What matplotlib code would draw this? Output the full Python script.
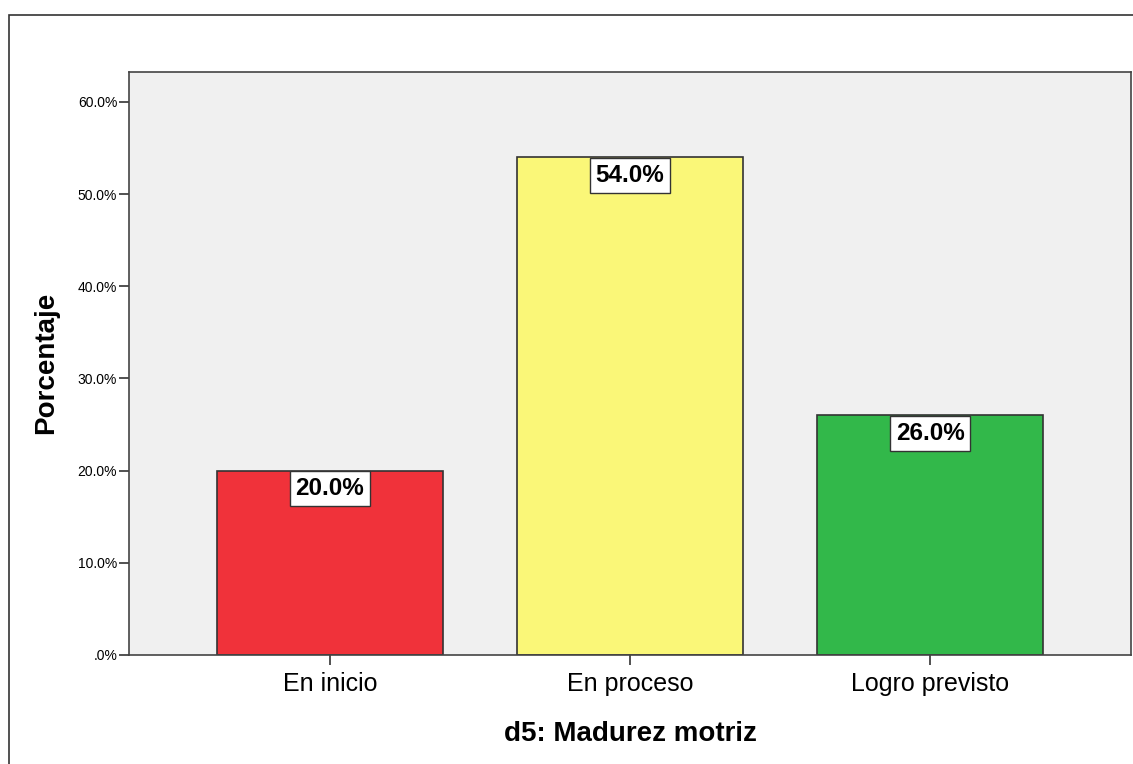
import matplotlib
matplotlib.use("Agg")
import matplotlib.pyplot as plt
from matplotlib.patches import Rectangle

categories = ["En inicio", "En proceso", "Logro previsto"]
values = [20.0, 54.0, 26.0]
colors = ["#F0323A", "#FAF778", "#32B84A"]
yticks = [0, 10, 20, 30, 40, 50, 60]
ytick_labels = [".0%", "10.0%", "20.0%", "30.0%", "40.0%", "50.0%", "60.0%"]

plt.rcParams['font.family'] = ["Liberation Sans", "DejaVu Sans"]

W, H = 1133, 764
fig = plt.figure(figsize=(W / 100, H / 100), dpi=100)
fig.patch.set_facecolor("white")

# outer frame
fig.patches.append(Rectangle((9 / W, -0.1), 1.2, 1 - 15 / H + 0.1, transform=fig.transFigure,
                             fill=False, edgecolor="#333333", linewidth=1.2))

l, r, t, b = 129, 1131, 72, 655
ax = fig.add_axes([l / W, 1 - b / H, (r - l) / W, (b - t) / H])
ax.set_facecolor("#F0F0F0")

x = list(range(len(categories)))
ax.bar(x, values, width=0.753, color=colors, edgecolor="#333333", linewidth=1.2, zorder=2)
ax.set_xlim(-0.67, 2.67)
ax.set_ylim(0, 63.25)

fs_lab = 17.5
pad = 0.25
for xi, v in zip(x, values):
    ax.annotate(f"{v:.1f}%", (xi, v), xytext=(0, -pad * fs_lab - 0.3), textcoords="offset points",
                ha="center", va="top", fontsize=fs_lab, fontweight="bold", zorder=3,
                bbox=dict(boxstyle=f"square,pad={pad}", facecolor="white", edgecolor="#333333", linewidth=1))

ax.set_yticks(yticks)
ax.set_yticklabels(ytick_labels, fontsize=10)
ax.set_xticks(x)
ax.set_xticklabels(categories, fontsize=18)
ax.tick_params(axis="y", length=7, width=1.2, color="#333333", pad=1.5)
ax.tick_params(axis="x", length=7, width=1.2, color="#333333", pad=5)
for s in ax.spines.values():
    s.set_color("#444444")
    s.set_linewidth(1.2)

ax.set_xlabel("d5: Madurez motriz", fontsize=20, fontweight="bold", labelpad=18)
ax.set_ylabel("Porcentaje", fontsize=20, fontweight="bold")
ax.yaxis.set_label_coords(0, 0)
ax.yaxis.label.set_transform(fig.transFigure)
ax.yaxis.label.set_position((46 / W, 1 - 363 / H))
ax.yaxis.label.set_verticalalignment("center")
ax.yaxis.label.set_horizontalalignment("center")

fig.savefig("out.png", dpi=100)
